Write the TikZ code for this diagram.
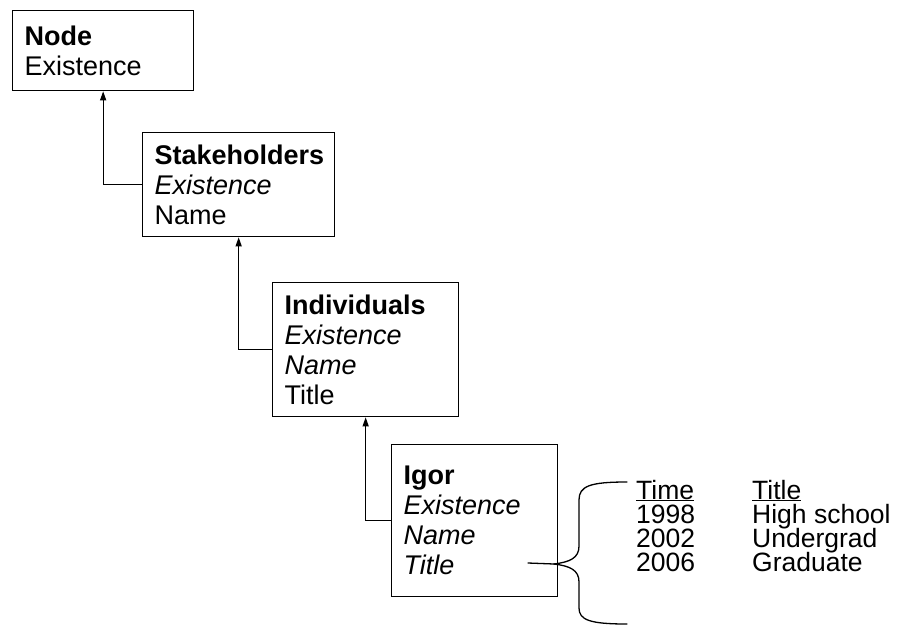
\documentclass[tikz,border=0pt]{standalone}
\usepackage{fontspec}
\setmainfont{Liberation Sans}
\usetikzlibrary{arrows.meta,positioning}
\newcommand{\boxfont}{\fontsize{27}{30}\selectfont}
\newcommand{\tabfont}{\fontsize{26.5}{23}\selectfont}
\tikzset{
  block/.style={rectangle, draw=black, line width=1.3pt, anchor=north west,
    align=left, inner xsep=12pt, inner ysep=0pt, font=\boxfont},
  flow/.style={-{Triangle[length=9pt,width=6pt]}, draw=black, line width=1.3pt},
  brace/.style={draw=black, line width=1.3pt, line cap=round},
}

\begin{document}
\begin{tikzpicture}[x=1pt, y=-1pt]
    \useasboundingbox (0,0) rectangle (899,627);
    \node[block, minimum width=181pt, minimum height=80pt, text width=157pt] (node) at (12,10)
      {\textbf{Node}\\Existence};
    \node[block, minimum width=192pt, minimum height=104pt, text width=168pt] (stake) at (142,132)
      {\textbf{Stakeholders}\\\textit{Existence}\\Name};
    \node[block, minimum width=186pt, minimum height=134pt, text width=162pt] (indiv) at (272,282)
      {\textbf{Individuals}\\\textit{Existence}\\\textit{Name}\\Title};
    \node[block, minimum width=166pt, minimum height=152pt, text width=142pt] (igor) at (391,444)
      {\textbf{Igor}\\\textit{Existence}\\\textit{Name}\\\textit{Title}};
    \draw[flow] (stake.west) -| (node.south);
    \draw[flow] (indiv.west) -| (stake.south);
    \draw[flow] (igor.west) -| (indiv.south);
    % history of the title attribute
    \node[anchor=base west, inner sep=0pt, font=\tabfont] (hist) at (636,499)
      {\begin{tabular}[t]{@{}p{116pt}@{}l@{}}
        \underline{Time} & \underline{Title}\\[-2pt]
        1998 & High school\\[-2pt]
        2002 & Undergrad\\[-2pt]
        2006 & Graduate
      \end{tabular}};
    \coordinate (tipend) at (528,563);
    \coordinate (cusp) at (554,564);
    \coordinate (bracetop) at (627,482);
    \coordinate (bracebot) at (627,624);
    \draw[brace] (tipend) -- (cusp);
    \draw[brace] (cusp) .. controls (570,562) and (579,558) .. (579,546) -- (579,500)
      .. controls (579,486) and (590,482) .. (bracetop);
    \draw[brace] (cusp) .. controls (570,566) and (579,570) .. (579,582) -- (579,608)
      .. controls (579,620) and (590,624) .. (bracebot);
  \end{tikzpicture}
\end{document}
